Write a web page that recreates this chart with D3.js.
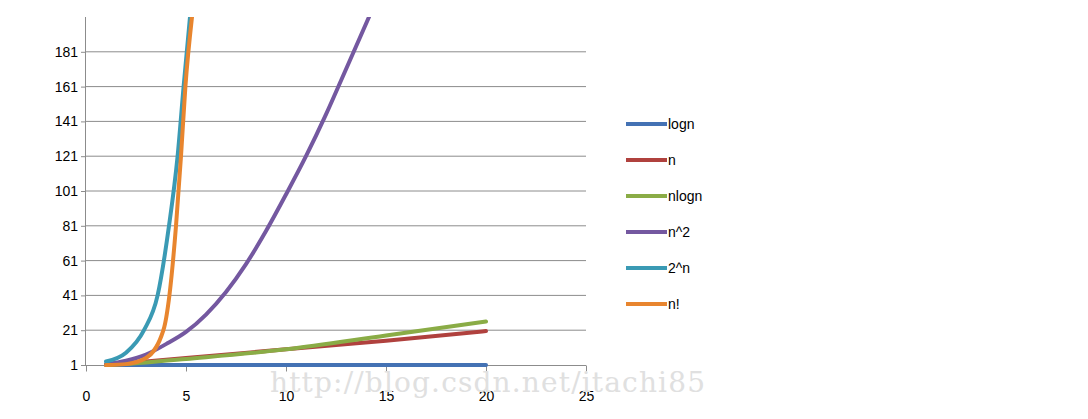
<!DOCTYPE html><html><head><script src="https://cdn.jsdelivr.net/npm/d3@7"></script>
<style>body{margin:0;background:#fff}text{font-family:"Liberation Sans",Arial,sans-serif;font-size:13px;fill:#000}</style></head><body>
<svg id="c" width="1088" height="419"></svg>
<script>
const yTicks=[1,21,41,61,81,101,121,141,161,181];
const xTicks=[0,5,10,15,20,25];
const seriesNames=["logn","n","nlogn","n^2","2^n","n!"];
const colors=["#4472b4","#b0413e","#8aac46","#7458a0","#3a9ab4","#e8852e"];
const logn=[[1,1],[5,1],[10,1],[15,1],[20,1]];
const lin=[[1,1],[5,5],[10,10],[15,15],[20,20.5]];
const nlogn=[[1,1],[3,2.5],[5,4.5],[10,10],[15,18],[20,26]];
const sq=[[1,1.5],[2,3.5],[3,7],[4,13],[5,20],[6,30],[7,43],[8,59],[9,78],[10,99],[11,121],[12,145],[13,171],[14.15,201]];
const pow2=[[1,3],[2,8],[2.9,21],[3.58,41],[4.15,81],[4.58,121],[4.88,161],[5.2,201]];
const fact=[[1,1],[2,1.5],[3,5],[3.87,21],[4.17,41],[4.5,81],[4.75,121],[4.97,161],[5.3,201]];
const data=[logn,lin,nlogn,sq,pow2,fact];
const svg=d3.select("#c");
const x=d3.scaleLinear().domain([0,25]).range([86,586]);
const y=d3.scaleLinear().domain([1,201]).range([365,17]);
svg.append("g").selectAll("line").data(yTicks.slice(1)).join("line")
 .attr("x1",86).attr("x2",586).attr("y1",d=>y(d)).attr("y2",d=>y(d)).attr("stroke","#8c8c8c").attr("stroke-width",1);
const ya=svg.append("g").attr("transform","translate(86,0)").call(d3.axisLeft(y).tickValues(yTicks).tickSize(5).tickPadding(3));
ya.select(".domain").attr("d","M-0.5,17V365.5").attr("stroke","#8c8c8c");
const xa=svg.append("g").attr("transform","translate(0,365.5)").call(d3.axisBottom(x).tickValues(xTicks).tickSize(6).tickPadding(20));
xa.select(".domain").attr("d","M86,0H586").attr("stroke","#8c8c8c");
svg.selectAll(".tick line").attr("stroke","#8c8c8c");
svg.selectAll(".tick text").style("font-size","14px").style("font-family","Liberation Sans, Arial, sans-serif");
const clip=svg.append("clipPath").attr("id","cp").append("rect").attr("x",86).attr("y",17).attr("width",500).attr("height",350);
const line=d3.line().x(d=>x(d[0])).y(d=>y(d[1])).curve(d3.curveMonotoneX);
svg.append("g").attr("clip-path","url(#cp)").selectAll("path").data(data).join("path")
 .attr("d",line).attr("fill","none").attr("stroke",(d,i)=>colors[i]).attr("stroke-width",4).attr("stroke-linecap","round");
const lg=svg.append("g");
seriesNames.forEach((n,i)=>{const yy=124+i*36;
 lg.append("line").attr("x1",626).attr("x2",667).attr("y1",yy).attr("y2",yy).attr("stroke",colors[i]).attr("stroke-width",4);
 lg.append("text").attr("x",668).attr("y",yy+5).style("font-size","14px").text(n);});
svg.append("text").attr("x",270).attr("y",392).attr("textLength",435).style("font-size","28px").style("fill","#e0e0e0").style("font-family","DejaVu Serif, serif").text("http://blog.csdn.net/itachi85");
</script></body></html>
